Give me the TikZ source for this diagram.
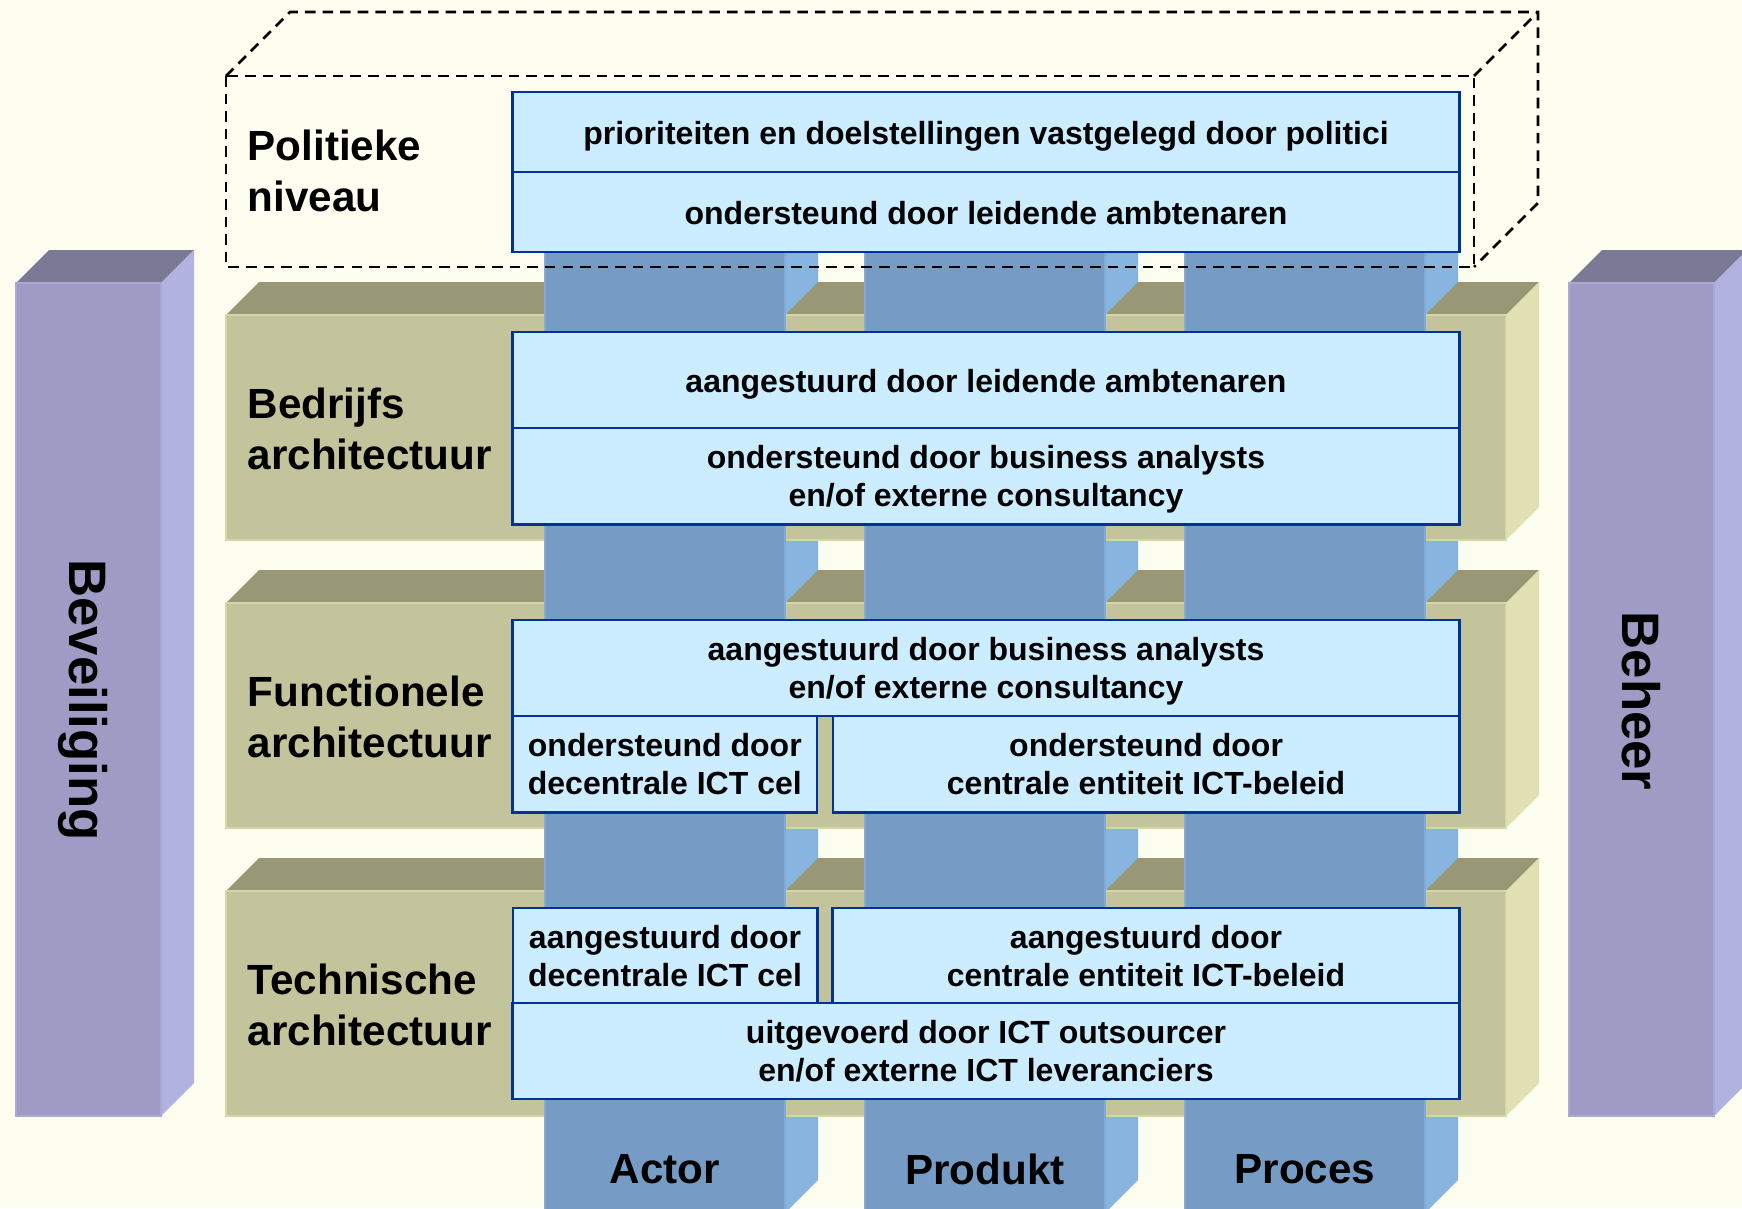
\documentclass[tikz,border=0pt]{standalone}
\usepackage{fontspec}
\setmainfont{Liberation Sans}
\usetikzlibrary{positioning}

\definecolor{paper}{HTML}{FEFEF0}
\definecolor{khakifront}{HTML}{C4C49C}
\definecolor{khakitop}{HTML}{989876}
\definecolor{khakiside}{HTML}{E0E0B4}
\definecolor{lilacfront}{HTML}{9E9CC4}
\definecolor{lilactop}{HTML}{7A7A96}
\definecolor{lilacside}{HTML}{B2B2E0}
\definecolor{pillarfront}{HTML}{769CC6}
\definecolor{pillarside}{HTML}{88B4E0}
\definecolor{cellfill}{HTML}{CCECFF}
\definecolor{cellline}{HTML}{003399}

\tikzset{
  cell/.style={draw=cellline,fill=cellfill,line width=0.8pt,inner sep=0pt,outer sep=0pt,
    align=center,font=\fontsize{9.1}{10.75}\selectfont\bfseries,
    text depth=0pt,execute at begin node={\rule{0pt}{7.3pt}}},
  layername/.style={anchor=west,align=left,inner sep=0pt,font=\fontsize{12}{14.5}\selectfont\bfseries},
  colname/.style={inner sep=0pt,font=\fontsize{12}{14}\selectfont\bfseries},
  sidename/.style={rotate=-90,inner sep=0pt,font=\fontsize{15}{18}\selectfont\bfseries},
  cage/.style={dash pattern=on 3pt off 2pt,line width=0.75pt}
}

\begin{document}
\begin{tikzpicture}[x=0.01cm,y=-0.01cm]
\useasboundingbox (0,0) rectangle (1742,1208);
\clip (0,0) rectangle (1742,1208);
\fill[paper] (0,0) rectangle (1742,1208);

% Beveiliging / Beheer
\foreach \px in {16,1569}{
  \fill[lilactop] (\px,283) -- (\px+145,283) -- (\px+178,250) -- (\px+33,250) -- cycle;
  \fill[lilacside] (\px+145,283) -- (\px+178,250) -- (\px+178,1083) -- (\px+145,1116) -- cycle;
  \path[fill=lilacfront,draw=lilacside!60!lilacfront,line width=0.5pt] (\px,283) rectangle (\px+145,1116);
}

% zijkant van de pijlers
\foreach \cx in {545,865,1185}
  \fill[pillarside] (\cx+240,251) -- (\cx+273,218) -- (\cx+273,1180) -- (\cx+240,1213) -- cycle;

% lagen
\foreach \ly in {315,603,891}{
  \foreach \a/\b in {226/545,785/865,1105/1185,1425/1506}
    \fill[khakitop] (\a,\ly) -- (\b,\ly) -- (\b+33,\ly-33) -- (\a+33,\ly-33) -- cycle;
  \path[fill=khakifront,draw=khakiside!60!khakifront,line width=0.5pt] (226,\ly) rectangle (1506,\ly+225);
  \fill[khakiside] (1506,\ly) -- (1539,\ly-33) -- (1539,\ly+192) -- (1506,\ly+225) -- cycle;
}

% voorkant van de pijlers
\foreach \cx in {545,865,1185}
  \path[fill=pillarfront,draw=pillarside!60!pillarfront,line width=0.5pt] (\cx,251) rectangle (\cx+240,1213);

% politiek niveau
\draw[cage] (226,76) rectangle (1474,267);
\draw[cage] (226,76) -- (290,12) -- (1538,12) -- (1538,203) -- (1474,267);
\draw[cage] (1474,76) -- (1538,12);

\node[cell,minimum width=9.46cm,minimum height=0.8cm] (pol1) at (986,132) {prioriteiten en doelstellingen vastgelegd door politici};
\node[cell,minimum width=9.46cm,minimum height=0.8cm,below=0pt of pol1] (pol2) {ondersteund door leidende ambtenaren};

\node[cell,minimum width=9.46cm,minimum height=0.96cm] (bed1) at (986,380) {aangestuurd door leidende ambtenaren};
\node[cell,minimum width=9.46cm,minimum height=0.96cm,below=0pt of bed1] (bed2) {ondersteund door business analysts\\en/of externe consultancy};

\node[cell,minimum width=9.46cm,minimum height=0.96cm] (fun1) at (986,668) {aangestuurd door business analysts\\en/of externe consultancy};
\node[cell,minimum width=3.04cm,minimum height=0.96cm,anchor=north west] (fun2) at (fun1.south west) {ondersteund door\\decentrale ICT cel};
\node[cell,minimum width=6.26cm,minimum height=0.96cm,anchor=north east] (fun3) at (fun1.south east) {ondersteund door\\centrale entiteit ICT-beleid};

\node[cell,minimum width=3.04cm,minimum height=0.95cm] (tec1) at (665,955.5) {aangestuurd door\\decentrale ICT cel};
\node[cell,minimum width=6.26cm,minimum height=0.95cm] (tec2) at (1146,955.5) {aangestuurd door\\centrale entiteit ICT-beleid};
\node[cell,minimum width=9.46cm,minimum height=0.96cm] (tec3) at (986,1051) {uitgevoerd door ICT outsourcer\\en/of externe ICT leveranciers};

\node[layername] (polname) at (247,171) {Politieke\\niveau};
\node[layername] (bedname) at (247,429) {Bedrijfs\\architectuur};
\node[layername] (funname) at (247,717) {Functionele\\architectuur};
\node[layername] (tecname) at (247,1005) {Technische\\architectuur};

\node[colname] (actor) at (665,1169) {Actor};
\node[colname] (produkt) at (985,1169) {Produkt};
\node[colname] (proces) at (1305,1169) {Proces};

\node[sidename] (bev) at (83,700) {Beveiliging};
\node[sidename] (beh) at (1641,701) {Beheer};
\end{tikzpicture}
\end{document}
